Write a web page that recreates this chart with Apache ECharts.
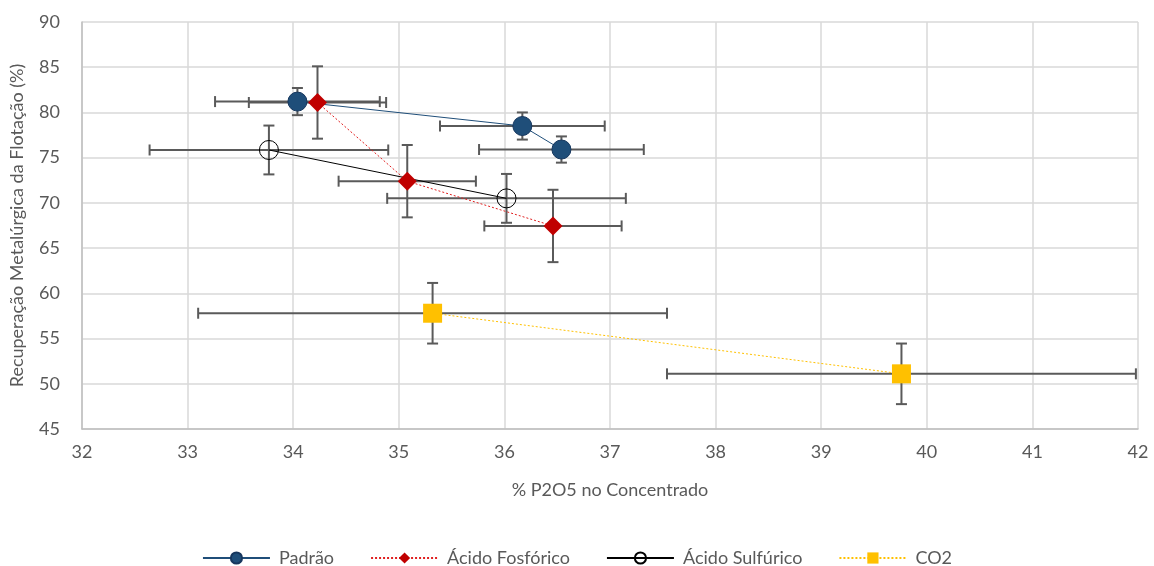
<!DOCTYPE html>
<html>
<head>
<meta charset="utf-8">
<script src="https://cdn.jsdelivr.net/npm/echarts@6/dist/echarts.min.js"></script>
<style>
  html, body { margin: 0; padding: 0; background: #fff; }
  #chart { width: 1154px; height: 566px; }
</style>
</head>
<body>
<div id="chart"></div>
<script>
// values
var padraoX = [34.04, 36.17, 36.54];
var padraoY = [81.2, 78.5, 75.9];
var padraoXErr = [0.78, 0.78, 0.78];
var padraoYErr = [1.5, 1.5, 1.45];

var fosforicoX = [34.23, 35.08, 36.46];
var fosforicoY = [81.1, 72.4, 67.45];
var fosforicoXErr = [0.65, 0.65, 0.65];
var fosforicoYErr = [4.0, 4.0, 4.0];

var sulfuricoX = [33.77, 36.02];
var sulfuricoY = [75.85, 70.5];
var sulfuricoXErr = [1.13, 1.13];
var sulfuricoYErr = [2.7, 2.7];

var co2X = [35.32, 39.76];
var co2Y = [57.8, 51.1];
var co2XErr = [2.22, 2.22];
var co2YErr = [3.35, 3.35];

var names = ['Padrão', 'Ácido Fosfórico', 'Ácido Sulfúrico', 'CO2'];

var textColor = '#595959';
var font = 'Lato';

function pts(xs, ys) {
  return xs.map(function (x, i) { return [x, ys[i]]; });
}

function errData(xs, ys, xe, ye) {
  return xs.map(function (x, i) { return [x, ys[i], xe[i], ye[i]]; });
}

var allErr = []
  .concat(errData(padraoX, padraoY, padraoXErr, padraoYErr))
  .concat(errData(fosforicoX, fosforicoY, fosforicoXErr, fosforicoYErr))
  .concat(errData(sulfuricoX, sulfuricoY, sulfuricoXErr, sulfuricoYErr))
  .concat(errData(co2X, co2Y, co2XErr, co2YErr));

function renderErr(params, api) {
  var x = api.value(0), y = api.value(1), ex = api.value(2), ey = api.value(3);
  var l = api.coord([x - ex, y]);
  var r = api.coord([x + ex, y]);
  var t = api.coord([x, y + ey]);
  var b = api.coord([x, y - ey]);
  var cap = 5.5;
  var st = { stroke: '#5a5a5a', lineWidth: 2 };
  var ln = function (x1, y1, x2, y2) {
    return { type: 'line', shape: { x1: x1, y1: y1, x2: x2, y2: y2 }, style: st };
  };
  return {
    type: 'group',
    children: [
      ln(l[0], l[1], r[0], r[1]),
      ln(l[0], l[1] - cap, l[0], l[1] + cap),
      ln(r[0], r[1] - cap, r[0], r[1] + cap),
      ln(t[0], t[1], b[0], b[1]),
      ln(t[0] - cap, t[1], t[0] + cap, t[1]),
      ln(b[0] - cap, b[1], b[0] + cap, b[1])
    ]
  };
}

var chart = echarts.init(document.getElementById('chart'));
var option = {
  animation: false,
  textStyle: { fontFamily: font },
  grid: { left: 82, right: 16, top: 22, bottom: 137 },
  legend: {
    data: names,
    left: 'center',
    top: 544,
    itemWidth: 67,
    itemHeight: 14,
    itemGap: 36,
    textStyle: { color: textColor, fontSize: 18, fontFamily: font, padding: [0, 0, 0, 4] }
  },
  xAxis: {
    type: 'value',
    min: 32, max: 42, interval: 1,
    name: '% P2O5 no Concentrado',
    nameLocation: 'middle',
    nameGap: 52,
    nameTextStyle: { color: textColor, fontSize: 18, fontFamily: font },
    axisLine: { lineStyle: { color: '#bfbfbf', width: 1.5 } },
    axisTick: { show: false },
    axisLabel: { color: textColor, fontSize: 18, fontFamily: font, margin: 14 },
    splitLine: { lineStyle: { color: '#d9d9d9', width: 1.5 } }
  },
  yAxis: {
    type: 'value',
    min: 45, max: 90, interval: 5,
    name: 'Recuperação Metalúrgica da Flotação (%)',
    nameLocation: 'middle',
    nameGap: 56,
    nameTextStyle: { color: textColor, fontSize: 18, fontFamily: font },
    axisLine: { show: true, lineStyle: { color: '#bfbfbf', width: 1.5 } },
    axisTick: { show: false },
    axisLabel: { color: textColor, fontSize: 18, fontFamily: font, margin: 22 },
    splitLine: { lineStyle: { color: '#d9d9d9', width: 1.5 } }
  },
  series: [
    {
      name: 'errors',
      type: 'custom',
      renderItem: renderErr,
      data: allErr,
      encode: { x: 0, y: 1 },
      z: 1,
      silent: true
    },
    {
      name: names[0],
      type: 'line',
      data: pts(padraoX, padraoY),
      symbol: 'circle',
      symbolSize: 19,
      lineStyle: { color: '#1f4e79', width: 1 },
      itemStyle: { color: '#1f4e79', borderColor: '#17375e', borderWidth: 1 },
      z: 3
    },
    {
      name: names[1],
      type: 'line',
      data: pts(fosforicoX, fosforicoY),
      symbol: 'diamond',
      symbolSize: 19,
      lineStyle: { color: '#e02020', width: 1, type: [2, 2] },
      itemStyle: { color: '#c00000' },
      z: 3
    },
    {
      name: names[2],
      type: 'line',
      data: pts(sulfuricoX, sulfuricoY),
      symbol: 'circle',
      symbolSize: 19,
      lineStyle: { color: '#000000', width: 1 },
      itemStyle: { color: 'rgba(255,255,255,0)', borderColor: '#000000', borderWidth: 1 },
      z: 3
    },
    {
      name: names[3],
      type: 'line',
      data: pts(co2X, co2Y),
      symbol: 'rect',
      symbolSize: 19,
      lineStyle: { color: '#ffc000', width: 1, type: [2, 2] },
      itemStyle: { color: '#ffc000' },
      z: 3
    }
  ]
};
chart.setOption(option);
</script>
</body>
</html>
